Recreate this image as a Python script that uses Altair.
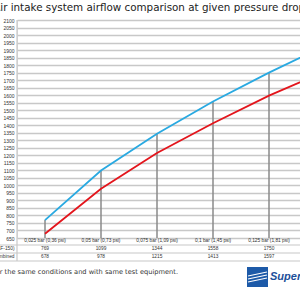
import altair as alt
import pandas as pd

# ---- data ----
pressure = [0.025, 0.05, 0.075, 0.1, 0.125, 0.15]
cat_labels = ["0,025 bar (0,36 psi)", "0,05 bar (0,73 psi)", "0,075 bar (1,09 psi)",
              "0,1 bar (1,45 psi)", "0,125 bar (1,81 psi)", "0,15 bar (2,18 psi)"]
blue_vals = [769, 1099, 1344, 1558, 1750, 1930]
red_vals = [678, 978, 1215, 1413, 1597, 1757]
row_names = ["Air filter (LF-150)", "Combined"]
title_text = "Air intake system airflow comparison at given pressure drops"
foot_text = "Tested under the same conditions and with same test equipment."

df = pd.DataFrame({"bar": pressure, "label": cat_labels, "blue": blue_vals, "red": red_vals})
df["blue_s"] = df["blue"].astype(str)
df["red_s"] = df["red"].astype(str)

W, H = 283, 218
BLUE = "#29a9e1"
RED = "#e3151c"
GRID = "#c8c8c8"
TXT = "#333333"

xs = alt.X("bar:Q", scale=alt.Scale(domain=[0.0125, 0.0125 + 0.025 * W / 56]), axis=None)
yscale = alt.Scale(domain=[650, 2100], nice=False, zero=False)
yaxis = alt.Axis(
    values=list(range(650, 2101, 50)), format="d", grid=True, gridColor=GRID, gridWidth=1.5,
    domain=False, ticks=False, labelFontSize=5, labelFont="Liberation Sans",
    labelColor=TXT, labelPadding=3, title=None)

base = alt.Chart(df)
visible = base.transform_filter("datum.bar < 0.14")

drops = base.mark_rule(color="#8a8a8a", strokeWidth=1.5, clip=True).encode(
    x=xs,
    y=alt.Y("blue:Q", scale=yscale, axis=yaxis),
    y2=alt.Y2Datum(650),
)

line_blue = base.mark_line(color=BLUE, strokeWidth=1.8, clip=True).encode(
    x=xs, y=alt.Y("blue:Q", scale=yscale, axis=yaxis))
line_red = base.mark_line(color=RED, strokeWidth=1.8, clip=True).encode(
    x=xs, y=alt.Y("red:Q", scale=yscale, axis=yaxis))

tstyle = dict(fontSize=4.8, font="Liberation Sans", color=TXT, baseline="middle")
cat_text = visible.mark_text(**tstyle).encode(x=xs, y=alt.value(220.7), text="label:N")
row1_text = visible.mark_text(**tstyle).encode(x=xs, y=alt.value(229), text="blue_s:N")
row2_text = visible.mark_text(**tstyle).encode(x=xs, y=alt.value(236.8), text="red_s:N")

hdr1 = alt.Chart(pd.DataFrame({"name": [row_names[0]]})).mark_text(
    align="right", **tstyle).encode(x=alt.value(-2.5), y=alt.value(229), text="name:N")
hdr2 = alt.Chart(pd.DataFrame({"name": [row_names[1]]})).mark_text(
    align="right", **tstyle).encode(x=alt.value(-2.5), y=alt.value(236.8), text="name:N")

def hrule(yv):
    return alt.Chart(pd.DataFrame({"k": [0]})).mark_rule(color=GRID, strokeWidth=1.2).encode(
        x=alt.value(-17), x2=alt.value(W), y=alt.value(yv))

table_lines = hrule(225) + hrule(233) + hrule(241)
vline = alt.Chart(pd.DataFrame({"k": [0]})).mark_rule(color=GRID, strokeWidth=1.2).encode(
    x=alt.value(0), y=alt.value(0), y2=alt.value(241))

title = alt.Chart(pd.DataFrame({"t": [title_text]})).mark_text(
    fontSize=10.35, font="DejaVu Sans", color="#222222", align="left", baseline="alphabetic").encode(
    x=alt.value(-23.8), y=alt.value(-9.5), text="t:N")

foot = alt.Chart(pd.DataFrame({"t": [foot_text]})).mark_text(
    fontSize=6.65, font="DejaVu Sans", color=TXT, align="right", baseline="middle").encode(
    x=alt.value(161), y=alt.value(252), text="t:N")

logo_box = alt.Chart(pd.DataFrame({"k": [0]})).mark_rect(color="#1d5aa8").encode(
    x=alt.value(230), x2=alt.value(251), y=alt.value(247), y2=alt.value(267))
def wave(y0, y1):
    return alt.Chart(pd.DataFrame({"k": [0]})).mark_rule(color="white", strokeWidth=1.2).encode(
        x=alt.value(231), x2=alt.value(250), y=alt.value(y0), y2=alt.value(y1))
logo_txt = alt.Chart(pd.DataFrame({"t": ["Supersprint"]})).mark_text(
    fontSize=11, font="Liberation Sans", fontWeight="bold", fontStyle="italic",
    color="#1d4f9a", align="left", baseline="middle").encode(
    x=alt.value(253), y=alt.value(257), text="t:N")

chart = alt.layer(
    drops, line_blue, line_red, table_lines, vline, cat_text, row1_text, row2_text,
    hdr1, hdr2, title, foot, logo_box, wave(256, 252), wave(259, 255), wave(262, 258), logo_txt
).properties(
    width=W, height=H,
    autosize=alt.AutoSizeParams(type="none"),
    padding={"left": 17, "top": 20, "right": 0, "bottom": 62},
).configure_view(stroke=None).configure(background="white")

chart.save("out.html", embed_options={"renderer": "svg", "actions": False})
